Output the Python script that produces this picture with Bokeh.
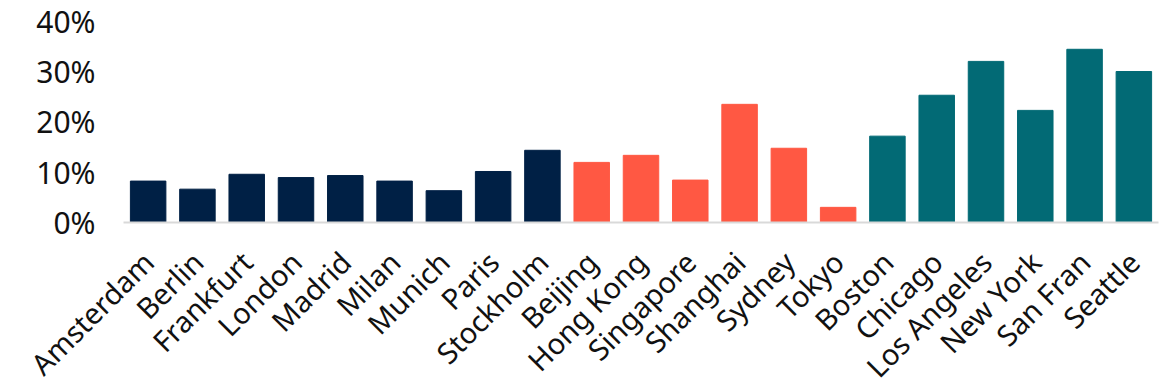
from bokeh.plotting import figure
from bokeh.models import Range1d, FixedTicker, NumeralTickFormatter, ColumnDataSource
from bokeh.layouts import column
from bokeh.core.properties import value
from bokeh.embed import file_html
from bokeh.resources import INLINE
import math

cities = ["Amsterdam", "Berlin", "Frankfurt", "London", "Madrid", "Milan", "Munich",
          "Paris", "Stockholm", "Beijing", "Hong Kong", "Singapore", "Shanghai", "Sydney",
          "Tokyo", "Boston", "Chicago", "Los Angeles", "New York", "San Fran", "Seattle"]
values = [0.082, 0.066, 0.0955, 0.089, 0.093, 0.082, 0.063, 0.101, 0.143,
          0.119, 0.133, 0.084, 0.234, 0.147, 0.030,
          0.171, 0.252, 0.319, 0.222, 0.343, 0.299]
regions = ["Europe"] * 9 + ["Asia Pacific"] * 6 + ["US"] * 6
region_colors = {"Europe": "#002045", "Asia Pacific": "#FF5843", "US": "#026A75"}
y_ticks = [0, 0.1, 0.2, 0.3, 0.4]

FONT = "Noto Sans"
W_TOTAL, H_TOTAL = 1171, 391
LEFT, RIGHT, TOP = 123, 13, 20
FRAME_H = 202
H_TOP = 242
LABEL_ANCHOR = 256  # distance of label anchor from page top

src = ColumnDataSource(dict(city=cities, value=values,
                            color=[region_colors[r] for r in regions]))

# ---- bar chart ----
p = figure(x_range=cities, y_range=Range1d(0, 0.40), width=W_TOTAL, height=H_TOP,
           output_backend="svg", toolbar_location=None,
           min_border_left=LEFT, min_border_right=RIGHT, min_border_top=TOP,
           min_border_bottom=H_TOP - TOP - FRAME_H)
p.frame_align = False
p.vbar(x="city", top="value", width=0.72, color="color", source=src)

p.outline_line_color = None
p.xgrid.grid_line_color = None
p.ygrid.grid_line_color = None
p.background_fill_color = "white"
p.border_fill_color = "white"

p.yaxis.ticker = FixedTicker(ticks=y_ticks)
p.yaxis.formatter = NumeralTickFormatter(format="0%")
p.yaxis.axis_line_color = None
p.yaxis.major_tick_line_color = None
p.yaxis.minor_tick_line_color = None
p.yaxis.major_tick_out = 0
p.yaxis.minor_tick_out = 0
p.yaxis.major_label_standoff = 28
p.yaxis.major_label_text_font = FONT
p.yaxis.major_label_text_font_size = "30px"
p.yaxis.major_label_text_color = "#111111"

p.xaxis.ticker = FixedTicker(ticks=[])
p.xaxis.axis_line_color = "#D9D9D9"
p.xaxis.axis_line_width = 2
p.xaxis.major_tick_line_color = None
p.xaxis.minor_tick_line_color = None
p.xaxis.major_tick_out = 0
p.xaxis.minor_tick_out = 0
p.xaxis.major_label_standoff = 0

# ---- rotated category labels (strip below, same horizontal scale as the bars) ----
n = len(cities)
frame_w = W_TOTAL - LEFT - RIGHT
step = frame_w / n
lab_src = ColumnDataSource(dict(x=[i + 0.5 for i in range(n)], y=[0] * n, text=cities))
q = figure(x_range=Range1d(-LEFT / step, n + RIGHT / step), y_range=Range1d(-1, 0),
           width=W_TOTAL, height=H_TOTAL - H_TOP, output_backend="svg", toolbar_location=None,
           x_axis_location=None, y_axis_location=None,
           min_border_left=0, min_border_right=0, min_border_top=0, min_border_bottom=0)
q.frame_align = False
q.outline_line_color = None
q.xgrid.grid_line_color = None
q.ygrid.grid_line_color = None
q.text(x="x", y="y", text="text", source=lab_src, angle=math.pi / 4,
       text_align="right", text_baseline="middle", y_offset=LABEL_ANCHOR - H_TOP,
       text_font=value(FONT), text_font_size=value("29px"), text_color="#111111")

layout = column(p, q, spacing=0)
open("out.html", "w").write(file_html(layout, INLINE))
